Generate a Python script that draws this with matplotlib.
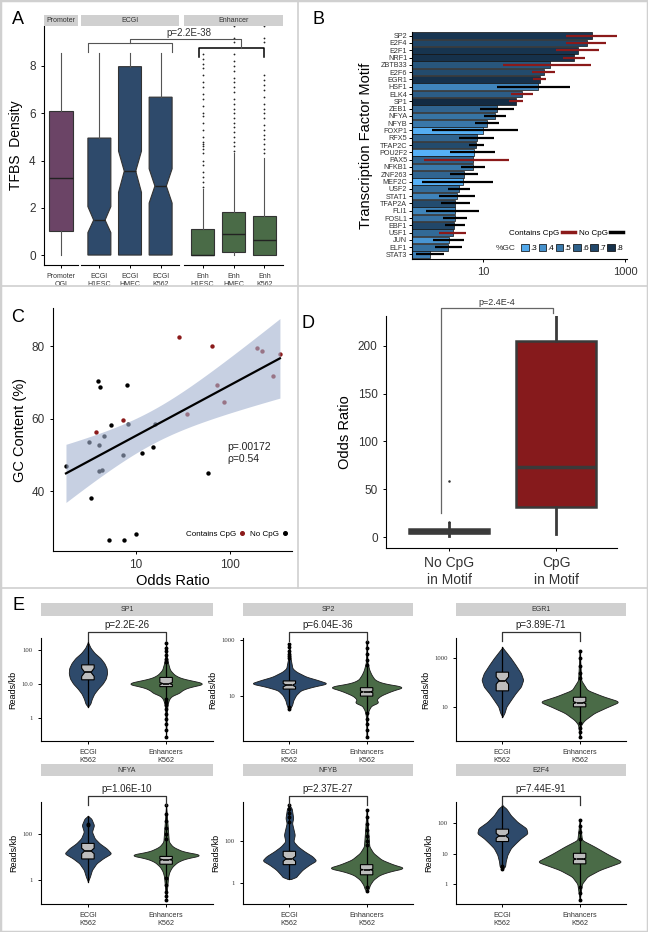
import numpy as np
import matplotlib
matplotlib.use('Agg')
import matplotlib.pyplot as plt
import matplotlib.transforms as mtransforms
from matplotlib.colors import LinearSegmentedColormap, Normalize
from matplotlib.lines import Line2D
from matplotlib.patches import Patch, Rectangle
from matplotlib.ticker import NullLocator

plt.rcParams['font.family'] = ['Liberation Sans', 'DejaVu Sans']

# ---------------- data ----------------
# panel A: TFBS density boxplots
a_labels = ['Promoter\nOGI', 'ECGI\nH1ESC', 'ECGI\nHMEC', 'ECGI\nK562',
            'Enh\nH1ESC', 'Enh\nHMEC', 'Enh\nK562']
a_group = [0, 1, 1, 1, 2, 2, 2]
a_strips = ['Promoter', 'ECGI', 'Enhancer']
a_q1 = [1.0, 0.0, 0.0, 0.0, 0.0, 0.15, 0.0]
a_med = [3.25, 1.48, 3.55, 2.92, 0.0, 0.88, 0.62]
a_q3 = [6.1, 4.95, 7.97, 6.68, 1.12, 1.82, 1.67]
a_whislo = [0, 0, 0, 0, 0, 0, 0]
a_whishi = [8.55, 8.55, 8.55, 8.55, 2.8, 4.3, 4.1]
a_cilo = [None, 0.95, 2.65, 2.2, None, None, None]
a_cihi = [None, 2.05, 4.4, 3.65, None, None, None]
a_fliers = [[], [], [], [],
            [8.5, 8.3, 8.1, 7.9, 7.6, 7.3, 7.1, 6.8, 6.6, 6.3, 6.0, 5.9, 5.6, 5.3,
             5.0, 4.8, 4.7, 4.6, 4.5, 4.3, 4.0, 3.8, 3.5, 3.3, 3.1, 2.9],
            [9.7, 9.2, 9.0, 8.5, 8.2, 8.0, 7.8, 7.5, 7.3, 7.1, 6.9, 6.6, 6.4, 6.2,
             6.0, 5.8, 5.6, 5.4, 5.2, 5.0, 4.8, 4.6, 4.4],
            [9.7, 9.2, 9.0, 7.6, 7.4, 7.2, 7.0, 6.7, 6.4, 6.2, 6.0, 5.8, 5.5, 5.3,
             5.1, 4.9, 4.7, 4.5, 4.3]]

# panels B, C, D: motif enrichment
tf_names = ['SP2', 'E2F4', 'E2F1', 'NRF1', 'ZBTB33', 'E2F6', 'EGR1', 'HSF1', 'ELK4', 'SP1',
            'ZEB1', 'NFYA', 'NFYB', 'FOXP1', 'RFX5', 'TFAP2C', 'POU2F2', 'PAX5', 'NFKB1',
            'ZNF263', 'MEF2C', 'USF2', 'STAT1', 'TFAP2A', 'FLI1', 'FOSL1', 'EBF1', 'USF1',
            'JUN', 'ELF1', 'STAT3']
odds = [340, 290, 218, 192, 87, 73, 64, 59, 35, 29, 16, 15, 11.5, 10, 8.3, 8.0, 7.5, 7.35,
        7.3, 5.4, 5.2, 4.55, 4.35, 4.1, 4.0, 4.0, 3.95, 3.8, 3.3, 3.2, 1.8]
ci_lo = [150, 150, 107, 133, 19, 49, 51, 16, 25, 23, 9, 10.2, 7.6, 1.9, 4.6, 6.3, 3.4, 1.5,
         4.9, 3.4, 1.4, 3.2, 2.4, 2.6, 1.6, 2.7, 2.9, 2.4, 2.0, 2.1, 1.15]
ci_hi = [780, 540, 436, 274, 333, 105, 78, 169, 50, 37, 27.5, 21, 17, 31, 14.4, 10.2, 14.9,
         23.4, 10.8, 8.4, 14, 6.5, 7.6, 6.5, 8.7, 6.0, 5.6, 5.8, 5.35, 5.0, 2.8]
gc_pct = [77.8, 71.7, 78.7, 79.6, 64.7, 69.3, 80.0, 45.0, 61.3, 82.4, 58.5, 52.3, 50.7, 28.3,
          58.5, 69.2, 26.7, 59.6, 50.0, 58.3, 26.7, 55.2, 45.8, 68.8, 45.5, 52.8, 70.5, 56.4,
          38.3, 53.7, 47.0]
has_cpg = [1, 1, 1, 1, 1, 1, 1, 0, 1, 1, 0, 0, 0, 0, 0, 0, 0, 1, 0, 0, 0, 0, 0, 0, 0, 0, 0,
           1, 0, 0, 0]
gc_breaks = [0.3, 0.4, 0.5, 0.6, 0.7, 0.8]
gc_break_labels = ['.3', '.4', '.5', '.6', '.7', '.8']

# panel E: violin profiles (log10 level, half width) and inner box stats
e_names = ['SP1', 'SP2', 'EGR1', 'NFYA', 'NFYB', 'E2F4']
e_pvals = ['p=2.2E-26', 'p=6.04E-36', 'p=3.89E-71', 'p=1.06E-10', 'p=2.37E-27', 'p=7.44E-91']
e_ylim = [(-0.69, 2.34), (-0.6, 3.07), (-0.37, 3.82), (-1.04, 3.42), (-0.99, 3.83), (-0.67, 2.71)]
e_ticks = [[0, 1, 2], [1, 3], [1, 3], [0, 2], [0, 2], [0, 1, 2]]
e_ticklabels = [['1', '10.0', '100'], ['10', '1000'], ['10', '1000'], ['1', '100'],
                ['1', '100'], ['1', '10', '100']]
ecgi_lv = [[0.32, 0.4, 0.55, 0.7, 0.85, 1.0, 1.15, 1.3, 1.45, 1.6, 1.75, 1.9, 2.05, 2.22],
           [0.52, 0.68, 0.86, 1.04, 1.21, 1.33, 1.45, 1.57, 1.69, 1.87, 1.99, 2.35, 2.85],
           [0.62, 0.76, 1.03, 1.30, 1.57, 1.84, 2.12, 2.39, 2.73, 3.0, 3.27, 3.44],
           [-0.06, 0.16, 0.45, 0.74, 0.96, 1.17, 1.39, 1.61, 1.83, 2.12, 2.41, 2.70, 2.81],
           [0.19, 0.25, 0.39, 0.63, 0.87, 1.06, 1.26, 1.5, 1.73, 1.97, 2.28, 2.6, 2.83, 3.07,
            3.54, 3.67],
           [0.49, 0.57, 0.74, 0.96, 1.18, 1.34, 1.51, 1.67, 1.84, 2.05, 2.27, 2.49, 2.60]]
ecgi_hw = [[0, 0.03, 0.05, 0.08, 0.13, 0.19, 0.23, 0.245, 0.24, 0.21, 0.16, 0.085, 0.034, 0],
           [0, 0.035, 0.052, 0.087, 0.15, 0.3, 0.5, 0.37, 0.22, 0.09, 0.04, 0.015, 0],
           [0, 0.026, 0.052, 0.11, 0.17, 0.24, 0.27, 0.24, 0.17, 0.11, 0.043, 0],
           [0, 0.026, 0.052, 0.11, 0.195, 0.3, 0.24, 0.15, 0.087, 0.052, 0.078, 0.043, 0],
           [0, 0.08, 0.11, 0.17, 0.26, 0.35, 0.3, 0.195, 0.11, 0.052, 0.07, 0.05, 0.035,
            0.05, 0.03, 0],
           [0, 0.035, 0.043, 0.065, 0.11, 0.17, 0.24, 0.325, 0.31, 0.195, 0.11, 0.052, 0]]
enh_lv = [[-0.56, 0.2, 0.4, 0.55, 0.65, 0.72, 0.8, 0.9, 0.95, 1.0, 1.08, 1.15, 1.25, 1.4, 1.6,
           1.8, 2.18],
          [-0.45, 0.3, 0.5, 0.68, 0.77, 0.85, 1.0, 1.1, 1.21, 1.33, 1.45, 1.57, 1.75, 1.93,
           2.2, 2.92],
          [-0.2, 0.3, 0.48, 0.77, 1.0, 1.23, 1.45, 1.7, 2.1, 3.31],
          [-0.86, 0.16, 0.38, 0.59, 0.81, 0.96, 1.10, 1.25, 1.46, 1.68, 3.28],
          [-0.39, -0.31, -0.08, 0.16, 0.39, 0.55, 0.71, 0.87, 1.1, 1.42, 1.73, 3.46],
          [-0.53, 0.0, 0.24, 0.46, 0.73, 1.0, 1.23, 1.45, 2.11]]
enh_hw = [[0, 0.01, 0.02, 0.04, 0.08, 0.17, 0.2, 0.3, 0.42, 0.5, 0.35, 0.2, 0.11, 0.05, 0.025,
           0.01, 0],
          [0, 0.01, 0.026, 0.065, 0.17, 0.12, 0.17, 0.25, 0.35, 0.5, 0.22, 0.11, 0.065, 0.035,
           0.01, 0],
          [0, 0.02, 0.065, 0.19, 0.35, 0.52, 0.3, 0.1, 0.02, 0],
          [0, 0.026, 0.043, 0.078, 0.15, 0.26, 0.48, 0.22, 0.087, 0.035, 0],
          [0, 0.022, 0.043, 0.087, 0.17, 0.3, 0.5, 0.35, 0.195, 0.087, 0.035, 0],
          [0, 0.03, 0.1, 0.26, 0.55, 0.35, 0.195, 0.03, 0]]
# inner boxes: (q1, median, q3, notch half width), log10 units
ecgi_box = [(1.11, 1.33, 1.55, 0.12), (1.25, 1.39, 1.54, 0.06), (1.67, 2.09, 2.43, 0.15),
            (0.93, 1.28, 1.61, 0.12), (0.87, 1.15, 1.5, 0.12), (1.40, 1.59, 1.81, 0.08)]
enh_box = [(0.91, 1.0, 1.18, 0.03), (1.0, 1.15, 1.30, 0.03), (1.02, 1.19, 1.41, 0.04),
           (0.70, 0.90, 1.04, 0.03), (0.39, 0.63, 0.87, 0.03), (0.66, 0.82, 1.01, 0.03)]
ecgi_out = [[], [2.85, 2.75, 2.62, 2.5, 2.42, 2.35, 0.6, 0.55], [], [2.45, 2.4],
            [3.67, 3.5, 3.3, 3.1, 2.9], [0.6, 0.55, 0.5]]
enh_out = [[2.18, 2.05, 1.95, 1.85, 1.72, 1.62, 0.55, 0.45, 0.38, 0.25, 0.1, -0.05, -0.2,
            -0.38, -0.56],
           [2.92, 2.7, 2.5, 2.3, 2.1, 0.4, 0.2, 0.0, -0.2, -0.45],
           [3.31, 3.0, 2.7, 2.4, 2.2, 0.35, 0.15, 0.0, -0.2],
           [3.28, 2.9, 2.6, 2.3, 2.0, 1.8, 0.1, -0.2, -0.5, -0.7, -0.86],
           [3.46, 3.1, 2.8, 2.5, 2.2, 2.0, 1.8, -0.2, -0.39],
           [2.11, 1.9, 1.7, 1.5, -0.1, -0.3, -0.53]]
e_xlabels = ['ECGI\nK562', 'Enhancers\nK562']

# ---------------- styles ----------------
NAVY = '#2e4a6b'
GREEN = '#4a6b47'
PURPLE = '#6b4466'
RED = '#8b1a1a'
STRIP = '#d0d0d0'
TXT = '#333333'

W, H = 648, 932
fig = plt.figure(figsize=(W / 100, H / 100), dpi=100)


def rect(x0, y0, x1, y1):
    return [x0 / W, 1 - y1 / H, (x1 - x0) / W, (y1 - y0) / H]


def fy(y):
    return 1 - y / H


def fx(ax, x):
    return fig.transFigure.inverted().transform(ax.transData.transform((x, 1)))[0]


def classic(ax):
    ax.spines['top'].set_visible(False)
    ax.spines['right'].set_visible(False)
    ax.tick_params(length=2.5, width=0.7, colors='black', labelcolor=TXT)


def fig_line(xs, ys, **kw):
    fig.add_artist(Line2D(xs, ys, transform=fig.transFigure, **kw))


# ---------------- panel A ----------------
a_colors = [PURPLE, NAVY, GREEN]
a_px = [(44, 78), (81, 179), (184, 283)]
a_xlims = [(0.45, 1.55), (0.4, 3.6), (0.4, 3.6)]
axA = []
for g in range(3):
    ax = fig.add_axes(rect(a_px[g][0], 26, a_px[g][1], 265))
    idx = [i for i in range(len(a_labels)) if a_group[i] == g]
    notch = a_cilo[idx[0]] is not None
    stats = []
    for i in idx:
        s = dict(med=a_med[i], q1=a_q1[i], q3=a_q3[i], whislo=a_whislo[i],
                 whishi=a_whishi[i], fliers=np.array(a_fliers[i]))
        if notch:
            s['cilo'] = a_cilo[i]
            s['cihi'] = a_cihi[i]
        stats.append(s)
    ax.bxp(stats, positions=np.arange(1, len(idx) + 1), widths=0.75, shownotches=notch,
           patch_artist=True, showcaps=False,
           boxprops=dict(facecolor=a_colors[g], edgecolor='#333333', linewidth=0.8),
           medianprops=dict(color='#222222', linewidth=1.0),
           whiskerprops=dict(color='#555555', linewidth=0.8),
           flierprops=dict(marker='o', markersize=1.3, markerfacecolor='#222222',
                           markeredgecolor='none'))
    ax.set_xlim(*a_xlims[g])
    ax.set_ylim(-0.42, 9.69)
    ax.set_xticks(np.arange(1, len(idx) + 1))
    ax.set_xticklabels([a_labels[i] for i in idx], fontsize=5)
    classic(ax)
    if g == 0:
        ax.set_yticks([0, 2, 4, 6, 8])
        ax.tick_params(axis='y', labelsize=8.5)
        ax.set_ylabel('TFBS  Density', fontsize=10, labelpad=4)
    else:
        ax.spines['left'].set_visible(False)
        ax.set_yticks([])
    p = ax.get_position()
    fig.add_artist(Rectangle((p.x0, fy(26)), p.width, fy(15) - fy(26), transform=fig.transFigure,
                             facecolor=STRIP, edgecolor='none'))
    fig.text(p.x0 + p.width / 2, fy(20.5), a_strips[g], fontsize=5, color=TXT,
             ha='center', va='center')
    axA.append(ax)

# brackets for panel A
x_ecgi_l, x_ecgi_r = fx(axA[1], 0.62), fx(axA[1], 3.38)
x_enh_l, x_enh_r = fx(axA[2], 0.9), fx(axA[2], 3)
fig_line([x_ecgi_l, x_ecgi_l, x_ecgi_r, x_ecgi_r], [fy(52), fy(43), fy(43), fy(52)],
         color='#555555', lw=0.8)
fig_line([x_enh_l, x_enh_l, x_enh_r, x_enh_r], [fy(57), fy(48), fy(48), fy(57)],
         color='black', lw=1.1)
xm1, xm2 = fx(axA[1], 2), fx(axA[2], 2.25)
fig_line([xm1, xm1, xm2, xm2], [fy(43), fy(39), fy(39), fy(48)], color='#555555', lw=0.8)
fig.text((xm1 + xm2) / 2 + 0.005, fy(38), 'p=2.2E-38', fontsize=7, color=TXT,
         ha='center', va='bottom')

# ---------------- panel B ----------------
gc_frac = np.array(gc_pct) / 100
cmap = LinearSegmentedColormap.from_list('gc', ['#56B1F7', '#132B43'])
norm = Normalize(vmin=gc_frac.min(), vmax=gc_frac.max())
axB = fig.add_axes(rect(412, 32, 627, 259))
ypos = np.arange(len(tf_names))
odds_arr = np.array(odds)
axB.barh(ypos, odds_arr - 1, left=1, height=0.92, color=cmap(norm(gc_frac)),
         edgecolor='#111111', linewidth=0.5, zorder=2)
err_colors = [RED if c else 'black' for c in has_cpg]
axB.hlines(ypos, ci_lo, ci_hi, colors=err_colors, lw=1.6, zorder=3)
axB.set_xscale('log')
axB.set_xlim(1, 1070)
axB.set_ylim(len(tf_names) - 0.38, -0.5)
axB.set_xticks([10, 1000])
axB.set_xticklabels(['10', '1000'], fontsize=8)
axB.xaxis.set_minor_locator(NullLocator())
axB.set_yticks(ypos)
axB.set_yticklabels(tf_names, fontsize=5.2)
classic(axB)
axB.tick_params(axis='y', length=2, pad=1.5)
axB.set_ylabel('Transcription Factor Motif', fontsize=10.5, labelpad=4)
h1 = [Line2D([], [], color=RED, lw=2.5), Line2D([], [], color='black', lw=2.5)]
leg1 = axB.legend(h1, ['Contains CpG', 'No CpG'], ncol=2, markerfirst=False,
                  loc='center right', bbox_to_anchor=(1.0, 0.115), frameon=False, fontsize=5.8,
                  handlelength=1.6, columnspacing=0.5, handletextpad=0.3, borderpad=0)
axB.add_artist(leg1)
h2 = [Patch(facecolor=cmap(norm(b)), edgecolor='black', linewidth=0.5) for b in gc_breaks]
axB.legend(h2, gc_break_labels, ncol=6, loc='center right', bbox_to_anchor=(1.0, 0.048),
           frameon=False, fontsize=5.8, handlelength=0.95, handleheight=1.0,
           handletextpad=0.15, columnspacing=0.2, borderpad=0)
fig.text(496 / W, fy(248), '%GC', fontsize=6, color=TXT, ha='left', va='center')

# ---------------- panel C ----------------
axC = fig.add_axes(rect(53, 308, 292, 551))
gc_arr = np.array(gc_pct)
cpg_arr = np.array(has_cpg, dtype=bool)
axC.scatter(odds_arr[cpg_arr], gc_arr[cpg_arr], s=10, color=RED, zorder=2, linewidths=0)
axC.scatter(odds_arr[~cpg_arr], gc_arr[~cpg_arr], s=10, color='black', zorder=2, linewidths=0)
lx = np.log10(odds_arr)
slope, icpt = np.polyfit(lx, gc_arr, 1)
resid = gc_arr - (slope * lx + icpt)
n = len(lx)
s_err = np.sqrt(np.sum(resid ** 2) / (n - 2))
grid = np.linspace(lx.min(), lx.max(), 100)
fit = slope * grid + icpt
band = 2.045 * s_err * np.sqrt(1 / n + (grid - lx.mean()) ** 2 / np.sum((lx - lx.mean()) ** 2))
axC.fill_between(10 ** grid, fit - band, fit + band, color='#a2b1cf', alpha=0.6, lw=0, zorder=3)
axC.plot(10 ** grid, fit, color='black', lw=1.6, zorder=4)
axC.set_xscale('log')
axC.set_xlim(1.31, 457)
axC.set_ylim(23.6, 90.5)
axC.set_xticks([10, 100])
axC.set_xticklabels(['10', '100'])
axC.xaxis.set_minor_locator(NullLocator())
axC.set_yticks([40, 60, 80])
classic(axC)
axC.tick_params(labelsize=8.5)
axC.set_xlabel('Odds Ratio', fontsize=10.5, labelpad=2)
axC.set_ylabel('GC Content (%)', fontsize=10.5, labelpad=3)
fig.text(227 / W, fy(447), 'p=.00172', fontsize=7.5, color='#222222', va='center')
fig.text(227 / W, fy(459), '\u03c1=0.54', fontsize=7.5, color='#222222', va='center')
hc = [Line2D([], [], ls='none', marker='o', ms=2.6, color=RED),
      Line2D([], [], ls='none', marker='o', ms=2.6, color='black')]
axC.legend(hc, ['Contains CpG', 'No CpG'], ncol=2, markerfirst=False, loc='center right',
           bbox_to_anchor=(1.0, 0.07), frameon=False, fontsize=5.8, handlelength=0.8,
           columnspacing=0.6, handletextpad=0.3, borderpad=0)

# ---------------- panel D ----------------
axD = fig.add_axes(rect(386, 316, 617, 548))
bp = axD.boxplot([odds_arr[~cpg_arr], odds_arr[cpg_arr]], positions=[1, 2], widths=0.75,
                 patch_artist=True, showcaps=False,
                 boxprops=dict(edgecolor='#3a3a3a', linewidth=1.8),
                 medianprops=dict(color='#3a3a3a', linewidth=2.5),
                 whiskerprops=dict(color='#3a3a3a', linewidth=2),
                 flierprops=dict(marker='o', markersize=1.8, markerfacecolor='#333333',
                                 markeredgecolor='none'))
for patch, col in zip(bp['boxes'], ['#333333', '#861a1c']):
    patch.set_facecolor(col)
axD.set_xlim(0.41, 2.57)
axD.set_ylim(-11.2, 231)
axD.set_yticks([0, 50, 100, 150, 200])
axD.set_xticks([1, 2])
axD.set_xticklabels(['No CpG\nin Motif', 'CpG\nin Motif'], fontsize=10)
classic(axD)
axD.tick_params(axis='y', labelsize=8.5)
axD.set_ylabel('Odds Ratio', fontsize=10.5, labelpad=4)
blendD = mtransforms.blended_transform_factory(axD.transData, fig.transFigure)
y_low = fig.transFigure.inverted().transform(axD.transData.transform((1, 25)))[1]
fig.add_artist(Line2D([0.92, 0.92, 1.97, 1.97], [y_low, fy(308), fy(308), fy(313)],
                      transform=blendD, color='#666666', lw=0.9))
fig.text(fx(axD, 1.45), fy(307), 'p=2.4E-4', fontsize=6.5, color=TXT, ha='center',
         va='bottom')

# ---------------- panel E ----------------
e_cols = [(41, 213), (243, 413), (456, 626)]
e_rows = [(638, 741), (802, 904)]
e_strips = [(603, 616), (764, 776)]


def draw_violin(ax, c, lv, hw, color, box, outs):
    lv = np.array(lv)
    fine = np.linspace(lv[0], lv[-1], 240)
    w = np.interp(fine, lv, hw)
    w = np.convolve(w, np.ones(9) / 9, mode='same')
    ax.fill_betweenx(10 ** fine, c - w, c + w, facecolor=color, edgecolor='#1a1a1a',
                     linewidth=0.6, zorder=2)
    ax.plot([c, c], [10 ** lv[0], 10 ** lv[-1]], color='black', lw=0.9, zorder=3)
    if outs:
        ax.plot(np.full(len(outs), c), 10 ** np.array(outs), 'o', ms=1.8, color='black',
                zorder=3)
    q1, med, q3, nh = box
    st = [dict(med=10 ** med, q1=10 ** q1, q3=10 ** q3, whislo=10 ** q1, whishi=10 ** q3,
               cilo=10 ** (med - nh), cihi=10 ** (med + nh), fliers=[])]
    ax.bxp(st, positions=[c], widths=0.16, shownotches=True, patch_artist=True,
           showcaps=False, showfliers=False, manage_ticks=False,
           boxprops=dict(facecolor='#bdbdbd', edgecolor='black', linewidth=0.8),
           medianprops=dict(color='black', linewidth=1.2),
           whiskerprops=dict(linewidth=0), zorder=4)


for k in range(len(e_names)):
    r, cidx = divmod(k, 3)
    x0, x1 = e_cols[cidx]
    y0, y1 = e_rows[r]
    ax = fig.add_axes(rect(x0, y0, x1, y1))
    ax.set_yscale('log')
    draw_violin(ax, 1, ecgi_lv[k], ecgi_hw[k], NAVY, ecgi_box[k], ecgi_out[k])
    draw_violin(ax, 2, enh_lv[k], enh_hw[k], GREEN, enh_box[k], enh_out[k])
    ax.set_xlim(0.4, 2.6)
    ax.set_ylim(10 ** e_ylim[k][0], 10 ** e_ylim[k][1])
    ax.set_yticks(10.0 ** np.array(e_ticks[k]))
    ax.set_yticklabels(e_ticklabels[k], fontsize=4.8, family='Liberation Serif')
    ax.yaxis.set_minor_locator(NullLocator())
    ax.set_xticks([1, 2])
    ax.set_xticklabels(e_xlabels, fontsize=5.2)
    classic(ax)
    ax.set_ylabel('Reads/kb', fontsize=6.5, labelpad=3)
    sy0, sy1 = e_strips[r]
    fig.add_artist(Rectangle((x0 / W, fy(sy1)), (x1 - x0) / W, fy(sy0) - fy(sy1),
                             transform=fig.transFigure, facecolor=STRIP, edgecolor='none'))
    fig.text((x0 + x1) / 2 / W, fy((sy0 + sy1) / 2), e_names[k], fontsize=5, color=TXT,
             ha='center', va='center')
    blend = mtransforms.blended_transform_factory(ax.transData, fig.transFigure)
    fig.add_artist(Line2D([1, 1, 2, 2], [fy(y0 + 3), fy(y0 - 6.5), fy(y0 - 6.5), fy(y0 + 3)],
                          transform=blend, color='#333333', lw=0.9))
    fig.text(fx(ax, 1.5), fy(y0 - 7.5), e_pvals[k], fontsize=7, color='#222222',
             ha='center', va='bottom')

# ---------------- panel letters and frames ----------------
for lab, x, y in [('A', 18, 20), ('B', 318, 20), ('C', 18, 317), ('D', 308, 323), ('E', 18, 605)]:
    fig.text(x / W, fy(y), lab, fontsize=13, ha='center', va='center')
frame = dict(color='#d0d0d0', lw=1.2)
fig_line([297.5 / W, 297.5 / W], [fy(0), fy(588)], **frame)
fig_line([0, 1], [fy(286), fy(286)], **frame)
fig_line([0, 1], [fy(588), fy(588)], **frame)
fig.add_artist(Rectangle((0, 0), 1, 1, transform=fig.transFigure, fill=False,
                         edgecolor='#d0d0d0', lw=2.5))

fig.savefig('out.png', dpi=100)
